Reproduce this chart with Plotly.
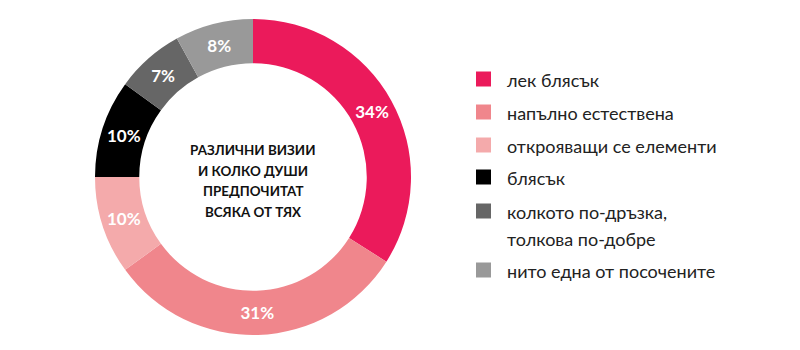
import plotly.graph_objects as go

# Survey shares per style
labels = [
    "лек блясък",
    "напълно естествена",
    "открояващи се елементи",
    "блясък",
    "колкото по-дръзка,<br>толкова по-добре",
    "нито една от посочените",
]
values = [34, 31, 10, 10, 7, 8]
colors = ["#EB1A5B", "#F0868C", "#F4AAAB", "#000000", "#666666", "#999999"]
center_lines = ["РАЗЛИЧНИ ВИЗИИ", "И КОЛКО ДУШИ", "ПРЕДПОЧИТАТ", "ВСЯКА ОТ ТЯХ"]

FONT = "Lato, 'Open Sans', sans-serif"

fig = go.Figure(
    go.Pie(
        labels=labels,
        values=values,
        hole=0.72,
        sort=False,
        direction="clockwise",
        rotation=0,
        marker=dict(colors=colors, line=dict(width=0)),
        texttemplate="<b>%{value}%</b>",
        textposition="inside",
        insidetextorientation="horizontal",
        textfont=dict(family=FONT, size=17, color="white"),
        domain=dict(x=[95 / 800, 411 / 800], y=[15 / 350, 331 / 350]),
        showlegend=False,
        hoverinfo="label+percent",
    )
)

annotations = []
shapes = []

# Centre caption, one annotation per line for tighter control of spacing
cx = (95 + 411) / 2 / 800
for i, line in enumerate(center_lines):
    y_px = 150 + i * 20.7
    annotations.append(
        dict(
            x=cx, y=1 - y_px / 350, xref="paper", yref="paper",
            text=f"<b>{line}</b>", showarrow=False,
            font=dict(family=FONT, size=13.4, color="#111111"),
            xanchor="center", yanchor="middle",
        )
    )

# Legend drawn as coloured squares with labels
legend_rows = [79, 112, 145, 177, 211, 270]
for lab, col, yc in zip(labels, colors, legend_rows):
    shapes.append(
        dict(
            type="rect", xref="paper", yref="paper",
            x0=476 / 800, x1=491 / 800,
            y0=1 - (yc + 7.5) / 350, y1=1 - (yc - 7.5) / 350,
            fillcolor=col, line=dict(width=0),
        )
    )
    parts = lab.split("<br>")
    for j, part in enumerate(parts):
        annotations.append(
            dict(
                x=505 / 800, y=1 - (yc + 1 + j * 27) / 350,
                xref="paper", yref="paper",
                text=part, showarrow=False,
                font=dict(family=FONT, size=18, color="#222222"),
                xanchor="left", yanchor="middle",
            )
        )

fig.update_layout(
    width=800, height=350,
    margin=dict(l=0, r=0, t=0, b=0),
    paper_bgcolor="white", plot_bgcolor="white",
    annotations=annotations, shapes=shapes,
    showlegend=False,
)

fig.write_html("out.html")
